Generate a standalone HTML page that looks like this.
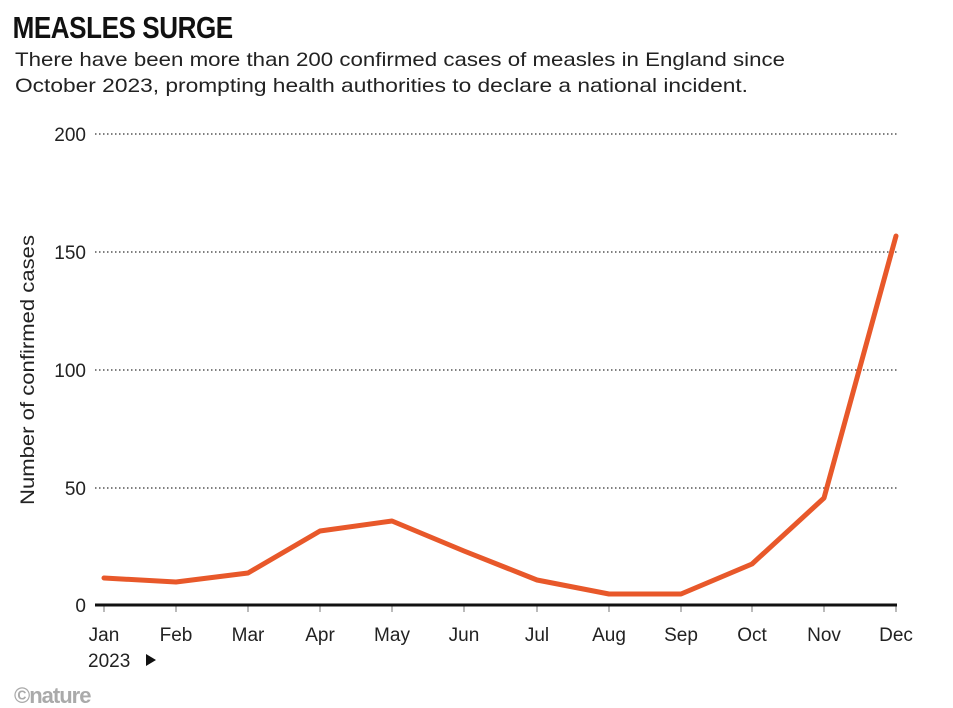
<!DOCTYPE html>
<html><head><meta charset="utf-8"><style>
html,body{margin:0;padding:0;background:#fff;width:953px;height:708px;overflow:hidden}
</style></head><body>
<svg width="953" height="708" viewBox="0 0 953 708" xmlns="http://www.w3.org/2000/svg" font-family="Liberation Sans, sans-serif">
<text x="15" y="38" font-size="31" font-weight="bold" fill="#111" transform="scale(0.84,1)" style="letter-spacing:-0.5px">MEASLES SURGE</text>
<text x="15" y="66" font-size="19.5" fill="#222" textLength="770" lengthAdjust="spacingAndGlyphs">There have been more than 200 confirmed cases of measles in England since</text>
<text x="15" y="92" font-size="19.5" fill="#222" textLength="733" lengthAdjust="spacingAndGlyphs">October 2023, prompting health authorities to declare a national incident.</text>
<g stroke="#333" stroke-width="1.2" stroke-dasharray="1.5,2.5">
<line x1="95" y1="134" x2="897" y2="134"/>
<line x1="95" y1="252" x2="897" y2="252"/>
<line x1="95" y1="370" x2="897" y2="370"/>
<line x1="95" y1="488" x2="897" y2="488"/>
</g>
<g font-size="19" fill="#222" text-anchor="end">
<text x="86" y="141">200</text>
<text x="86" y="259">150</text>
<text x="86" y="377">100</text>
<text x="86" y="495">50</text>
<text x="86" y="612">0</text>
</g>
<text transform="translate(34,370) rotate(-90)" font-size="19" fill="#222" text-anchor="middle" textLength="270" lengthAdjust="spacingAndGlyphs">Number of confirmed cases</text>
<g stroke="#777" stroke-width="1">
<line x1="104" y1="605" x2="104" y2="612"/><line x1="176" y1="605" x2="176" y2="612"/><line x1="248" y1="605" x2="248" y2="612"/><line x1="320" y1="605" x2="320" y2="612"/><line x1="392" y1="605" x2="392" y2="612"/><line x1="464" y1="605" x2="464" y2="612"/><line x1="537" y1="605" x2="537" y2="612"/><line x1="609" y1="605" x2="609" y2="612"/><line x1="681" y1="605" x2="681" y2="612"/><line x1="752" y1="605" x2="752" y2="612"/><line x1="824" y1="605" x2="824" y2="612"/><line x1="896" y1="605" x2="896" y2="612"/>
</g>
<line x1="95" y1="605" x2="897" y2="605" stroke="#111" stroke-width="3"/>
<g font-size="19" fill="#222" text-anchor="middle">
<text x="104" y="641">Jan</text><text x="176" y="641">Feb</text><text x="248" y="641">Mar</text><text x="320" y="641">Apr</text><text x="392" y="641">May</text><text x="464" y="641">Jun</text><text x="537" y="641">Jul</text><text x="609" y="641">Aug</text><text x="681" y="641">Sep</text><text x="752" y="641">Oct</text><text x="824" y="641">Nov</text><text x="896" y="641">Dec</text>
</g>
<text x="88" y="667" font-size="19" fill="#222">2023</text>
<polygon points="146,654 146,666 156,660" fill="#111"/>
<polyline fill="none" stroke="#e8582a" stroke-width="5" stroke-linejoin="round" stroke-linecap="round" points="104,578 176,582 248,573 320,531 392,521 464,551 537,580 609,594 681,594 752,564 824,498 896,236"/>
<text x="14" y="703" font-size="22" font-weight="bold" fill="#aaa" style="letter-spacing:-1px">©nature</text>
</svg>
</body></html>
